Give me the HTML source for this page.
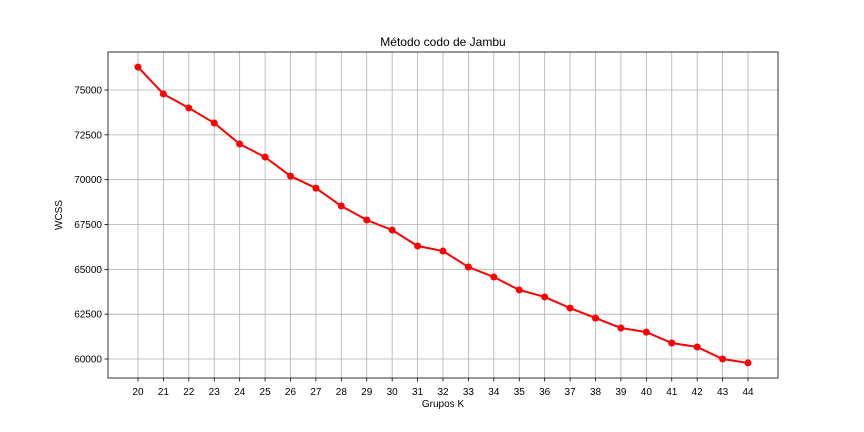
<!DOCTYPE html>
<html><head><meta charset="utf-8"><style>
html,body{margin:0;padding:0;background:#fff;}
svg{display:block;font-family:"Liberation Sans","DejaVu Sans",sans-serif;}
</style></head><body>
<svg id="chart" width="864" height="432"></svg>
<script>
const categories = [20,21,22,23,24,25,26,27,28,29,30,31,32,33,34,35,36,37,38,39,40,41,42,43,44];
const wcssValues = [76280,74780,74000,73160,71990,71260,70200,69530,68530,67750,67190,66300,66020,65130,64570,63850,63460,62840,62280,61730,61500,60890,60670,60000,59780];
const yTicks = [60000,62500,65000,67500,70000,72500,75000];

const NS="http://www.w3.org/2000/svg";
const svg=document.getElementById('chart');
const L=108,R=778,T=52,B=378;
const xMin=18.82,xMax=45.18,yMin=58940,yMax=77120;
function xs(v){return L+(v-xMin)/(xMax-xMin)*(R-L);}
function ys(v){return B-(v-yMin)/(yMax-yMin)*(B-T);}
function mk(tag,attrs){const e=document.createElementNS(NS,tag);for(const k in attrs)e.setAttribute(k,attrs[k]);svg.appendChild(e);return e;}

const grid=[];
categories.forEach(c=>{
  const x=xs(c);
  const g=mk('line',{x1:x,x2:x,y1:T,y2:B,stroke:'#b0b0b0','stroke-width':0.8});
  
  
  const t=mk('line',{x1:x,x2:x,y1:B,y2:B+3.5,stroke:'#000','stroke-width':0.8});
  
  
  const lb=mk('text',{x:x,y:B+17,'font-size':10,'text-anchor':'middle',fill:'#000'});
  lb.textContent=c;
  
  
});
yTicks.forEach(v=>{
  const y=ys(v);
  const g=mk('line',{x1:L,x2:R,y1:y,y2:y,stroke:'#b0b0b0','stroke-width':0.8});
  
  
  const t=mk('line',{x1:L-3.5,x2:L,y1:y,y2:y,stroke:'#000','stroke-width':0.8});
  
  
  const lb=mk('text',{x:L-6,y:y+3.5,'font-size':10,'text-anchor':'end',fill:'#000'});
  lb.textContent=v;
  
  
});
const frame=mk('rect',{x:L,y:T,width:R-L,height:B-T,fill:'none',stroke:'#000','stroke-width':0.8});



const pts=categories.map((c,i)=>xs(c)+','+ys(wcssValues[i])).join(' ');
const line=mk('polyline',{points:pts,fill:'none',stroke:'#ff0000','stroke-width':2});


categories.forEach((c,i)=>{
  const p=mk('circle',{cx:xs(c),cy:ys(wcssValues[i]),r:3.5,fill:'#ff0000'});
  
  
});

const title=mk('text',{x:(L+R)/2,y:46,'font-size':12,'text-anchor':'middle',fill:'#000'});
title.textContent='Método codo de Jambu';


const xt=mk('text',{x:(L+R)/2,y:407,'font-size':10,'text-anchor':'middle',fill:'#000'});
xt.textContent='Grupos K';


const yt=mk('text',{x:0,y:0,'font-size':10,'text-anchor':'middle',fill:'#000',transform:'translate(62,'+((T+B)/2)+') rotate(-90)'});
yt.textContent='WCSS';


</script>
</body></html>
